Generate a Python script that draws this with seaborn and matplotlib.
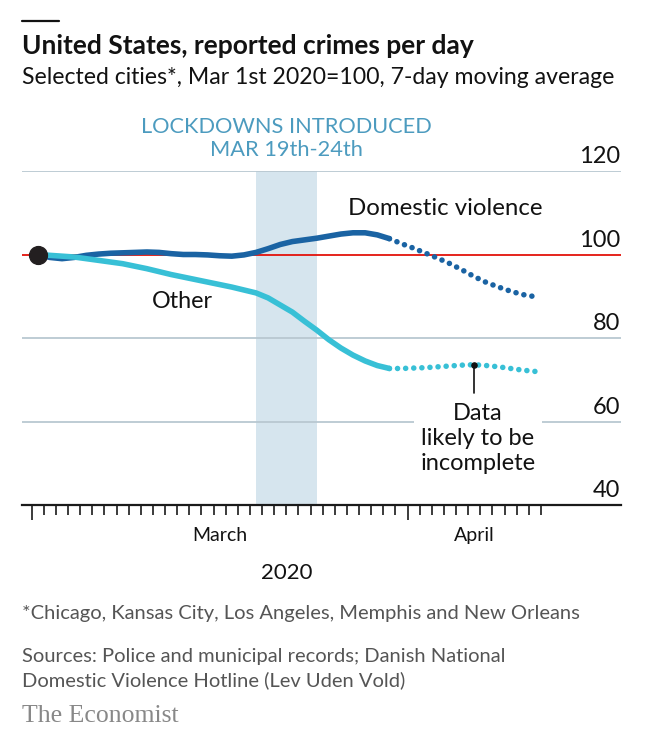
import numpy as np
import pandas as pd
import seaborn as sns
import matplotlib.pyplot as plt
import matplotlib.transforms as mtransforms

# days since Mar 1st 2020 (Mar 1 .. Apr 11)
days = list(range(42))
domestic = [100, 99.3, 99.0, 99.3, 99.8, 100.1, 100.3, 100.4, 100.5, 100.6,
            100.5, 100.2, 100.0, 100.0, 99.9, 99.7, 99.6, 99.9, 100.5, 101.4,
            102.4, 103.1, 103.5, 103.9, 104.4, 104.9, 105.2, 105.2, 104.7, 103.8,
            102.6, 101.5, 100.3, 99.1, 97.8, 96.3, 94.7, 93.3, 92.2, 91.2,
            90.4, 89.9]
other = [100, 99.8, 99.6, 99.4, 99.0, 98.6, 98.2, 97.8, 97.2, 96.6,
         95.9, 95.2, 94.6, 94.0, 93.4, 92.8, 92.2, 91.5, 90.8, 89.6,
         87.9, 86.2, 84.0, 81.9, 79.6, 77.6, 75.9, 74.5, 73.4, 72.7,
         72.7, 72.8, 72.9, 73.1, 73.3, 73.5, 73.6, 73.4, 73.1, 72.7,
         72.3, 72.0]
last_complete = 29          # data after Mar 30th likely incomplete
lockdown = (18, 23)         # Mar 19th - Mar 24th
yticks = [40, 60, 80, 100, 120]
months = ["March", "April"]
month_start = [0, 31]
note_day = 36
note_end = 66.9

c_dom = "#1a63a3"
c_oth = "#38c0d6"

df = pd.DataFrame({"day": days * 2,
                   "value": domestic + other,
                   "series": ["Domestic violence"] * 42 + ["Other"] * 42})

sns.set_theme(style="white")
plt.rcParams["font.family"] = ["Lato", "DejaVu Sans"]

fig = plt.figure(figsize=(6.46, 7.48), dpi=100)
ax = fig.add_axes([22 / 646, 1 - 505 / 748, 599 / 646, 334 / 748])

ax.axvspan(*lockdown, color="#d6e5ee", lw=0, zorder=0)
for v in [60, 80, 120]:
    ax.axhline(v, color="#b9c8d1", lw=1.3, zorder=1)
ax.axhline(100, color="#e3120b", lw=1.3, zorder=1)

pal = {"Domestic violence": c_dom, "Other": c_oth}
solid = df[df.day <= last_complete]
dotted = df[df.day >= last_complete]
sns.lineplot(data=solid, x="day", y="value", hue="series", palette=pal,
             lw=4.0, solid_capstyle="round", legend=False, ax=ax, zorder=3)
sns.lineplot(data=dotted, x="day", y="value", hue="series", palette=pal,
             lw=4.0, linestyle=(0, (0.01, 1.45)), dash_capstyle="round",
             legend=False, ax=ax, zorder=3)
ax.scatter([days[0]], [domestic[0]], s=165, color="#231f20", zorder=5)

# incomplete data note
ax.plot([note_day, note_day], [other[note_day], note_end], color="#111", lw=1.2, zorder=4)
ax.scatter([note_day], [other[note_day]], s=14, color="#111", zorder=5)
ax.text(note_day + 0.3, 55.9, "Data\nlikely to be\nincomplete", ha="center", va="center",
        fontsize=17, color="#121212", linespacing=1.22, zorder=4,
        bbox=dict(facecolor="white", edgecolor="none", pad=5))

ax.text(33.6, 111, "Domestic violence", ha="center", va="center", fontsize=17.3, color="#121212")
ax.text(11.9, 88.7, "Other", ha="center", va="center", fontsize=16.8, color="#121212")
ax.text(sum(lockdown) / 2, 127.8, "LOCKDOWNS INTRODUCED\nMAR 19th-24th", ha="center",
        va="center", fontsize=15.7, color="#4c9bbf", linespacing=1.2)

ax.set_xlim(-1.3, 48.1)
ax.set_ylim(40, 120)
sns.despine(ax=ax, left=True, right=True, top=True)
ax.spines["bottom"].set_color("#1a1a1a")
ax.spines["bottom"].set_linewidth(1.6)

ticks = [d - 0.5 for d in days] + [days[-1] + 0.5]
ax.set_xticks([t for t in ticks if t + 0.5 not in month_start], minor=True)
ax.set_xticks([m - 0.5 for m in month_start])
ax.tick_params(axis="x", which="both", bottom=True, labelbottom=False)
ax.tick_params(axis="x", which="minor", length=7, width=1.2, color="#1a1a1a", direction="out")
ax.tick_params(axis="x", which="major", length=10.5, width=1.2, color="#1a1a1a", direction="out")
ax.set_yticks([])
ax.set_xlabel("")
ax.set_ylabel("")

tr = mtransforms.blended_transform_factory(ax.transAxes, ax.transData)
for v in yticks:
    ax.text(0.998, v + 0.9, str(v), transform=tr, ha="right", va="bottom", fontsize=17, color="#121212")

trx = mtransforms.blended_transform_factory(ax.transData, ax.transAxes)
bounds = month_start + [days[-1] + 1]
for i, m in enumerate(months):
    mid = (bounds[i] + bounds[i + 1]) / 2 - 0.5
    ax.text(mid, -0.09, m, transform=trx, ha="center", va="center", fontsize=14, color="#121212")
ax.text((ticks[0] + ticks[-1]) / 2, -0.203, "2020", transform=trx, ha="center", va="center",
        fontsize=16, color="#121212")

# header and footer
fig.add_artist(plt.Line2D([22 / 646, 59 / 646], [1 - 20.5 / 748] * 2, color="#121212", lw=1.6))
fig.text(22 / 646, 1 - 46 / 748, "United States, reported crimes per day", fontsize=19,
         fontweight="bold", color="#121212", va="center")
fig.text(22 / 646, 1 - 78 / 748, "Selected cities*, Mar 1st 2020=100, 7-day moving average",
         fontsize=16.6, color="#121212", va="center")
fig.text(22 / 646, 1 - 613 / 748, "*Chicago, Kansas City, Los Angeles, Memphis and New Orleans",
         fontsize=14.5, color="#555555", va="center")
fig.text(22 / 646, 1 - 669 / 748, "Sources: Police and municipal records; Danish National\n"
         "Domestic Violence Hotline (Lev Uden Vold)", fontsize=14.5, color="#555555",
         va="center", linespacing=1.42)
fig.text(22 / 646, 1 - 716 / 748, "The Economist", fontsize=18.5, color="#888888",
         va="center", family="Liberation Serif")

fig.savefig("out.png", dpi=100, facecolor="white")
